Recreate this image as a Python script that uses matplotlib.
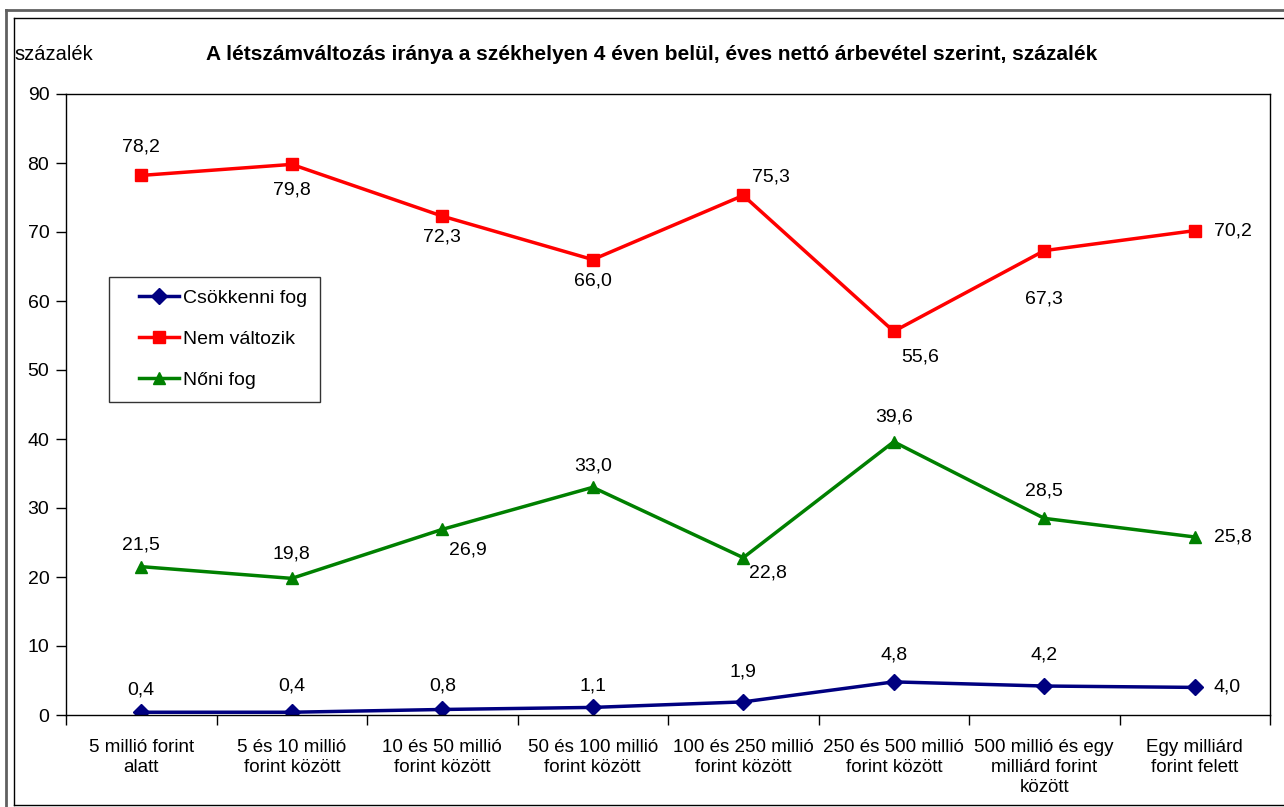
"""Line chart: létszámváltozás iránya árbevétel szerint."""

import matplotlib
matplotlib.use("Agg")
import matplotlib.pyplot as plt
from matplotlib.lines import Line2D
from matplotlib.legend_handler import HandlerLine2D

plt.rcParams["font.family"] = ["Liberation Sans", "DejaVu Sans"]

categories = [
    "5 millió forint\nalatt",
    "5 és 10 millió\nforint között",
    "10 és 50 millió\nforint között",
    "50 és 100 millió\nforint között",
    "100 és 250 millió\nforint között",
    "250 és 500 millió\nforint között",
    "500 millió és egy\nmilliárd forint\nközött",
    "Egy milliárd\nforint felett",
]
csokkenni = [0.4, 0.4, 0.8, 1.1, 1.9, 4.8, 4.2, 4.0]
nem_valtozik = [78.2, 79.8, 72.3, 66.0, 75.3, 55.6, 67.3, 70.2]
noni = [21.5, 19.8, 26.9, 33.0, 22.8, 39.6, 28.5, 25.8]

# label offsets in pixels (dx, dy), per point
off_blue = [(0, 22), (0, 26), (0, 23), (0, 21), (0, 30), (0, 27), (0, 31), (23, 0)]
off_red = [(0, 28), (0, -26), (0, -21), (0, -21), (28, 18), (26, -26), (0, -48), (23, 0)]
off_green = [(0, 22), (0, 24), (26, -21), (0, 21), (25, -15), (0, 25), (0, 27), (23, 0)]

W, H = 1284, 807
fig = plt.figure(figsize=(W / 100, H / 100), dpi=100)

# outer frames
fig.add_artist(Line2D([6 / W, 6 / W], [0, 1 - 10 / H], color="#606060", lw=2))
fig.add_artist(Line2D([6 / W, 1], [1 - 10 / H, 1 - 10 / H], color="#606060", lw=2))
fig.add_artist(Line2D([14 / W, 14 / W], [2 / H, 1 - 18 / H], color="black", lw=1))
fig.add_artist(Line2D([14 / W, 1], [1 - 18 / H, 1 - 18 / H], color="black", lw=1))
fig.add_artist(Line2D([14 / W, 1], [2 / H, 2 / H], color="black", lw=1))

ax = fig.add_axes([66 / W, (H - 715) / H, (1270 - 66) / W, (715 - 94) / H])

x = list(range(len(categories)))
series = [
    (csokkenni, "Csökkenni fog", "#000080", "D", 8, off_blue),
    (nem_valtozik, "Nem változik", "#FF0000", "s", 8, off_red),
    (noni, "Nőni fog", "#008000", "^", 9, off_green),
]
for vals, name, col, mk, ms, offs in series:
    ax.plot(x, vals, color=col, lw=2.5, marker=mk, markersize=ms,
            markeredgecolor=col, markerfacecolor=col, label=name)
    for xi, v, (dx, dy) in zip(x, vals, offs):
        ha = "left" if dx > 20 and dy == 0 else "center"
        ax.annotate(f"{v:.1f}".replace(".", ","), (xi, v),
                    xytext=(dx - (0 if ha == "center" else 4), dy),
                    textcoords="offset pixels", ha=ha, va="center", fontsize=14)

ax.set_xlim(-0.5, len(categories) - 0.5)
ax.set_ylim(0, 90)
ax.set_yticks(range(0, 91, 10))
ax.set_xticks([i - 0.5 for i in range(len(categories) + 1)])
ax.set_xticklabels([])
ax.set_xticks(x, minor=True)
ax.set_xticklabels(categories, minor=True, fontsize=13.5, linespacing=1.25)
ax.tick_params(axis="x", which="major", direction="out", length=7, width=1)
ax.tick_params(axis="x", which="minor", length=0, pad=17)
ax.tick_params(axis="y", direction="out", length=7, width=1, labelsize=14, pad=5)
for s in ax.spines.values():
    s.set_linewidth(1)
    s.set_color("black")

leg = ax.legend(loc="upper left",
                bbox_to_anchor=((109 - 66) / (1270 - 66), (715 - 277) / (715 - 94)),
                frameon=True, fancybox=False, edgecolor="black", fontsize=14,
                handlelength=2.96, labelspacing=1.2, borderpad=0.65, handletextpad=0.2,
                borderaxespad=0, handler_map={Line2D: HandlerLine2D(xpad=0.9)})
leg.get_frame().set_linewidth(1)

fig.text(14 / W, 1 - 54 / H, "százalék", fontsize=14.5, va="center", ha="left")
fig.text(652 / W, 1 - 55 / H,
         "A létszámváltozás iránya a székhelyen 4 éven belül, éves nettó árbevétel szerint, százalék",
         fontsize=15, fontweight="bold", va="center", ha="center")

fig.savefig("out.png", dpi=100, facecolor="white")
